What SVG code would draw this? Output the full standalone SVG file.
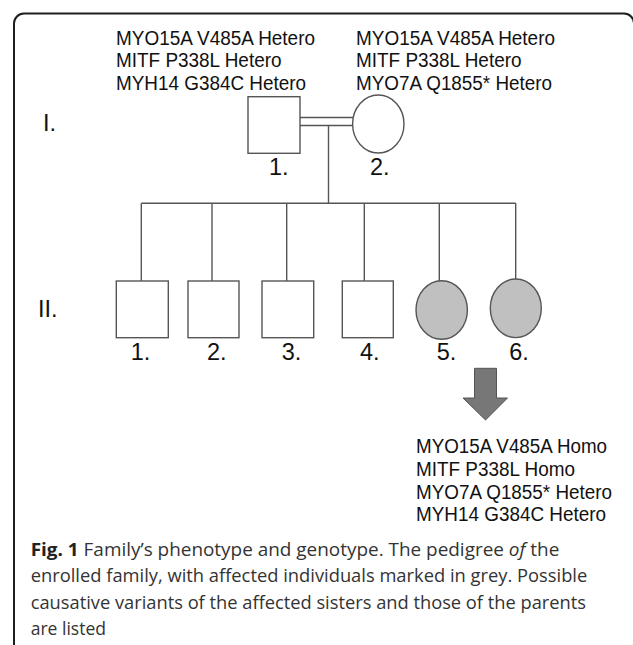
<svg xmlns="http://www.w3.org/2000/svg" width="633" height="645" viewBox="0 0 633 645">
<style>
.frame{fill:none;stroke:#1e1e1e;stroke-width:2}
.ln{fill:none;stroke:#555;stroke-width:1.4}
.m{fill:#fff;stroke:#555;stroke-width:1.4}
.a{fill:#c0c0c0;stroke:#555;stroke-width:1.4}
.t{font-family:"Liberation Sans",Arial,sans-serif;font-size:19.5px;fill:#111}
.n{font-family:"Liberation Sans",Arial,sans-serif;font-size:23.5px;fill:#111}
.cap{font-family:"Open Sans","Noto Sans",sans-serif;font-size:18.5px;fill:#333}
.b{font-weight:bold;fill:#222}
</style>
<rect class="frame" x="14" y="13.5" width="620" height="640" rx="10"/>
<text class="n" x="43" y="131">I.</text>
<text class="n" x="38" y="317">II.</text>
<g id="geno-I1">
<text class="t" x="116" y="44.5" textLength="199" lengthAdjust="spacingAndGlyphs">MYO15A V485A Hetero</text>
<text class="t" x="116" y="67" textLength="165.5" lengthAdjust="spacingAndGlyphs">MITF P338L Hetero</text>
<text class="t" x="116" y="89.5" textLength="190" lengthAdjust="spacingAndGlyphs">MYH14 G384C Hetero</text>
</g>
<g id="geno-I2">
<text class="t" x="356" y="44.5" textLength="199" lengthAdjust="spacingAndGlyphs">MYO15A V485A Hetero</text>
<text class="t" x="356" y="67" textLength="165.5" lengthAdjust="spacingAndGlyphs">MITF P338L Hetero</text>
<text class="t" x="356" y="89.5" textLength="196" lengthAdjust="spacingAndGlyphs">MYO7A Q1855* Hetero</text>
</g>
<g id="connectors">
<line class="ln" x1="300" y1="117.5" x2="353" y2="117.5"/>
<line class="ln" x1="300" y1="125.5" x2="353" y2="125.5"/>
<line class="ln" x1="328.5" y1="125.5" x2="328.5" y2="203.3"/>
<line class="ln" x1="141.3" y1="203.3" x2="515.7" y2="203.3"/>
<line class="ln" x1="141.3" y1="203.3" x2="141.3" y2="281"/>
<line class="ln" x1="212" y1="203.3" x2="212" y2="281"/>
<line class="ln" x1="286.7" y1="203.3" x2="286.7" y2="281"/>
<line class="ln" x1="364.3" y1="203.3" x2="364.3" y2="281"/>
<line class="ln" x1="439.3" y1="203.3" x2="439.3" y2="281"/>
<line class="ln" x1="515.7" y1="203.3" x2="515.7" y2="279"/>
</g>
<g id="I1">
<rect class="m" x="248" y="96.7" width="52" height="56.6"/>
<text class="n" x="269" y="175">1.</text>
</g>
<g id="I2">
<ellipse class="m" cx="378.3" cy="124" rx="25.7" ry="29"/>
<text class="n" x="370" y="175">2.</text>
</g>
<g id="II1">
<rect class="m" x="116.3" y="281" width="52" height="56.7"/>
<text class="n" x="130.7" y="360">1.</text>
</g>
<g id="II2">
<rect class="m" x="188" y="281" width="51" height="56.7"/>
<text class="n" x="207" y="360">2.</text>
</g>
<g id="II3">
<rect class="m" x="262" y="281" width="51.7" height="56.7"/>
<text class="n" x="281.7" y="360">3.</text>
</g>
<g id="II4">
<rect class="m" x="342.3" y="281" width="51" height="56.7"/>
<text class="n" x="360" y="360">4.</text>
</g>
<g id="II5">
<ellipse class="a" cx="441.7" cy="310" rx="25.7" ry="29.3"/>
<text class="n" x="436.7" y="360">5.</text>
</g>
<g id="II6">
<ellipse class="a" cx="515.8" cy="308.3" rx="25.5" ry="29.3"/>
<text class="n" x="509.3" y="360">6.</text>
</g>
<g id="arrow">
<polygon points="474.5,368.3 496.5,368.3 496.5,398 507.5,398 485.5,420 463,398 474.5,398" fill="#777" stroke="#555" stroke-width="1"/>
</g>
<g id="geno-II">
<text class="t" x="416" y="453.3" textLength="191" lengthAdjust="spacingAndGlyphs">MYO15A V485A Homo</text>
<text class="t" x="416" y="476" textLength="159" lengthAdjust="spacingAndGlyphs">MITF P338L Homo</text>
<text class="t" x="416" y="498.5" textLength="196" lengthAdjust="spacingAndGlyphs">MYO7A Q1855* Hetero</text>
<text class="t" x="416" y="521" textLength="190" lengthAdjust="spacingAndGlyphs">MYH14 G384C Hetero</text>
</g>
<g id="caption">
<text class="cap" x="30.7" y="556" textLength="528.6" lengthAdjust="spacingAndGlyphs"><tspan class="b">Fig. 1</tspan> Family’s phenotype and genotype. The pedigree <tspan font-style="italic">of</tspan> the</text>
<text class="cap" x="30.7" y="582.3" textLength="556.6" lengthAdjust="spacingAndGlyphs">enrolled family, with affected individuals marked in grey. Possible</text>
<text class="cap" x="30.7" y="608.5" textLength="555.3" lengthAdjust="spacingAndGlyphs">causative variants of the affected sisters and those of the parents</text>
<text class="cap" x="30.7" y="635" textLength="75.3" lengthAdjust="spacingAndGlyphs">are listed</text>
</g>
</svg>
